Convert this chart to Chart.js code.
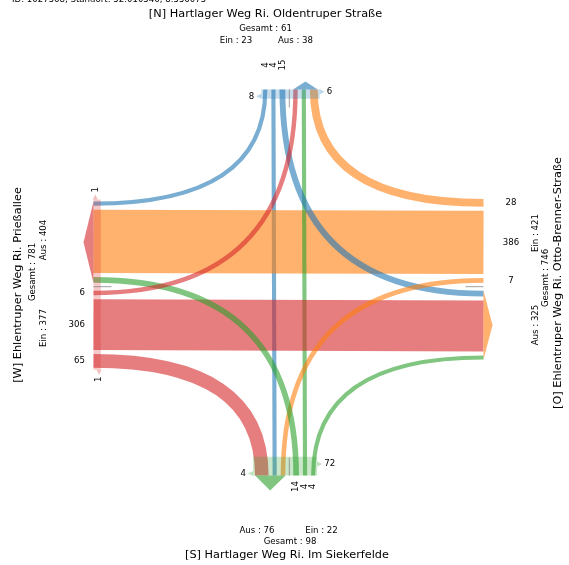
<!DOCTYPE html>
<html>
<head>
<meta charset="utf-8">
<script src="https://cdn.jsdelivr.net/npm/chart.js@4.4.0/dist/chart.umd.min.js"></script>
<style>
    html, body { margin: 0; padding: 0; background: #fff; }
    #wrap { width: 569px; height: 565px; }
</style>
</head>
<body>
<div id="wrap"><canvas id="knotenstrom"></canvas></div>
<script>
// Knotenstrom-Diagramm der Zählstelle Hartlager Weg / Ehlentruper Weg.

// Daten
var armIds = ['N', 'O', 'S', 'W'];
var armTitles = [
    '[N] Hartlager Weg Ri. Oldentruper Straße',
    '[O] Ehlentruper Weg Ri. Otto-Brenner-Straße',
    '[S] Hartlager Weg Ri. Im Siekerfelde',
    '[W] Ehlentruper Weg Ri. Prießallee'
];
var flowFrom = ['N', 'N', 'N', 'O', 'O', 'O', 'S', 'S', 'S', 'W', 'W', 'W'];
var flowTo = ['W', 'S', 'O', 'N', 'W', 'S', 'W', 'N', 'O', 'N', 'O', 'S'];
var flowValues = [4, 4, 15, 28, 386, 7, 14, 4, 4, 6, 306, 65];
var crossInner = [8, 0, 72, 1];
var crossOuter = [6, 0, 4, 1];
var headerText = 'ID: 1027568, Standort: 52.010546, 8.556075';

// Layout
var armColors = ['31,119,180', '255,127,14', '44,160,44', '214,39,40'];
var armDir = [[0, 1], [1, 0], [0, -1], [-1, 0]];
var armReach = [197.2, 194.2, 188.8, 195.8];
var arrowLen = [8, 9, 15, 10];
var laneGap = 4;
var labelOut = [24.5, 27.5, 11, 8.5];
var labelAlign = ['center', 'center', 'center', 'right'];
var labelRot = [-90, 0, -90, 0];
var textRot = [0, -90, 0, -90];
// Textpositionen je Arm: Titel, Gesamt, Ein, Aus
var textPos = [
    [[-23.8, 272.2], [-23.8, 257.7], [-53.3, 245.7], [6.2, 245.7]],
    [[268.7, 3.7], [256.7, 8.7], [246.7, 53.7], [246.7, -38.3]],
    [[-2.3, -268.3], [0.7, -255.3], [32.2, -244.3], [-32.3, -244.3]],
    [[-271.3, 1.7], [-256.3, 14.7], [-245.3, -41.3], [-245.3, 46.7]]
];

function laneWidth(v) {
    return 3.5 + 0.155 * v;
}

function turnRank(fromI, toI) {
    var d = (toI - fromI + 4) % 4;
    return d === 1 ? 0 : (d === 2 ? 1 : 2);
}

// Punkt am Arm a: Abstand r vom Zentrum, Versatz s quer zum Arm
function armPoint(a, r, s) {
    var d = armDir[a];
    return [d[0] * r - d[1] * s, d[1] * r + d[0] * s];
}

// Fahrstreifen aufbauen
var lanes = flowValues.map(function (v, k) {
    return {
        from: armIds.indexOf(flowFrom[k]),
        to: armIds.indexOf(flowTo[k]),
        value: v,
        width: laneWidth(v)
    };
});
var einEdge = [0, 0, 0, 0];
var ausEdge = [0, 0, 0, 0];
var einSum = [0, 0, 0, 0];
var ausSum = [0, 0, 0, 0];

armIds.forEach(function (id, a) {
    var byTurn = function (p, q) {
        return turnRank(p.from, p.to) - turnRank(q.from, q.to);
    };
    var off = laneGap;
    lanes.filter(function (l) { return l.from === a; }).sort(byTurn).forEach(function (l) {
        l.startOff = off + l.width / 2;
        off += l.width + laneGap;
        einSum[a] += l.value;
    });
    einEdge[a] = off - laneGap;

    off = laneGap;
    lanes.filter(function (l) { return l.to === a; }).sort(byTurn).forEach(function (l) {
        l.endOff = -(off + l.width / 2);
        off += l.width + laneGap;
        ausSum[a] += l.value;
    });
    ausEdge[a] = off - laneGap;
});

var knotenPlugin = {
    id: 'knoten',
    afterDatasetsDraw: function (chart) {
        var ctx = chart.ctx;
        var xs = chart.scales.x;
        var ys = chart.scales.y;

        function px(p) {
            return [xs.getPixelForValue(p[0]), ys.getPixelForValue(p[1])];
        }
        function len(v) {
            return Math.abs(xs.getPixelForValue(v) - xs.getPixelForValue(0));
        }
        function polygon(points, fill) {
            ctx.beginPath();
            points.forEach(function (p, i) {
                var q = px(p);
                if (i === 0) ctx.moveTo(q[0], q[1]); else ctx.lineTo(q[0], q[1]);
            });
            ctx.closePath();
            ctx.fillStyle = fill;
            ctx.fill();
        }
        function drawText(text, p, size, rot, align) {
            var q = px(p);
            ctx.save();
            ctx.translate(q[0], q[1]);
            ctx.rotate(rot * Math.PI / 180);
            ctx.font = size + 'px "DejaVu Sans"';
            ctx.fillStyle = '#000';
            ctx.textAlign = align || 'center';
            ctx.textBaseline = 'middle';
            ctx.fillText(text, 0, 0);
            ctx.restore();
        }

        // Ströme: erst Geradeaus, dann Abbieger
        var ordered = lanes.filter(function (l) { return turnRank(l.from, l.to) === 1; })
            .concat(lanes.filter(function (l) { return turnRank(l.from, l.to) !== 1; }));
        ctx.save();
        ctx.lineCap = 'butt';
        ordered.forEach(function (l) {
            var p0d = armPoint(l.from, armReach[l.from], l.startOff);
            var p2d = armPoint(l.to, armReach[l.to], l.endOff);
            var p0 = px(p0d);
            var p2 = px(p2d);
            ctx.beginPath();
            ctx.moveTo(p0[0], p0[1]);
            if (turnRank(l.from, l.to) === 1) {
                ctx.lineTo(p2[0], p2[1]);
            } else {
                var corner = armDir[l.from][0] === 0 ? [p0d[0], p2d[1]] : [p2d[0], p0d[1]];
                var c = px(corner);
                ctx.quadraticCurveTo(c[0], c[1], p2[0], p2[1]);
            }
            ctx.lineWidth = len(l.width);
            ctx.strokeStyle = 'rgba(' + armColors[l.from] + ',0.6)';
            ctx.stroke();
        });
        ctx.restore();

        armIds.forEach(function (id, a) {
            var R = armReach[a];
            var col = armColors[a];
            var sIn = einEdge[a] + 2;
            var sOut = -(ausEdge[a] + 2);

            // Querungen (innen / außen)
            var bands = [
                { value: crossOuter[a], r0: R, s: sOut, sign: -1 },
                { value: crossInner[a], r0: R - (crossOuter[a] ? laneWidth(crossOuter[a]) : 0), s: sIn, sign: 1 }
            ];
            bands.forEach(function (b) {
                if (!b.value) return;
                var r1 = b.r0 - laneWidth(b.value);
                polygon([armPoint(a, b.r0, sOut), armPoint(a, b.r0, sIn),
                    armPoint(a, r1, sIn), armPoint(a, r1, sOut)], 'rgba(' + col + ',0.25)');
                var rc = (b.r0 + r1) / 2;
                polygon([armPoint(a, rc + 2.5, b.s), armPoint(a, rc - 2.5, b.s),
                    armPoint(a, rc, b.s + b.sign * 5)], 'rgba(' + col + ',0.3)');
                var rot = armDir[a][0] === 0 ? 0 : -90;
                ctx.font = '8.6px "DejaVu Sans"';
                var tw = ctx.measureText(String(b.value)).width;
                var half = xs.getValueForPixel(xs.getPixelForValue(0) + tw / 2) - xs.getValueForPixel(xs.getPixelForValue(0));
                drawText(String(b.value), armPoint(a, rc, b.s + b.sign * (7 + half)), 8.6, rot);
            });

            // Richtungspfeil für ausfahrende Ströme
            if (ausEdge[a] > 0) {
                polygon([armPoint(a, R, -laneGap + 0.3), armPoint(a, R, -ausEdge[a]),
                    armPoint(a, R + arrowLen[a], -(laneGap + ausEdge[a]) / 2)], 'rgba(' + col + ',0.6)');
            }

            // Wendelinie
            var u0 = px(armPoint(a, R, 0));
            var u1 = px(armPoint(a, R - 18, 0));
            ctx.beginPath();
            ctx.moveTo(u0[0], u0[1]);
            ctx.lineTo(u1[0], u1[1]);
            ctx.lineWidth = 1;
            ctx.strokeStyle = 'rgba(120,120,120,0.7)';
            ctx.stroke();

            // Werte der einfahrenden Ströme
            lanes.forEach(function (l) {
                if (l.from !== a) return;
                drawText(String(l.value), armPoint(a, R + labelOut[a], l.startOff), 8.6, labelRot[a], labelAlign[a]);
            });

            // Beschriftung des Arms
            var tp = textPos[a];
            drawText(armTitles[a], tp[0], 11.3, textRot[a]);
            drawText('Gesamt : ' + (einSum[a] + ausSum[a]), tp[1], 8.6, textRot[a]);
            drawText('Ein : ' + einSum[a], tp[2], 8.6, textRot[a]);
            drawText('Aus : ' + ausSum[a], tp[3], 8.6, textRot[a]);
        });

        drawText(headerText, [-277.3, 287.4], 8.6, 0, 'left');
    }
};

var chart = new Chart(document.getElementById('knotenstrom').getContext('2d'), {
    type: 'scatter',
    data: {
        datasets: [{ data: [] }]
    },
    options: {
        responsive: true,
        maintainAspectRatio: false,
        animation: false,
        layout: { padding: 0 },
        plugins: {
            legend: { display: false },
            tooltip: { enabled: false }
        },
        scales: {
            x: { type: 'linear', display: false, min: -289.3, max: 279.7 },
            y: { type: 'linear', display: false, min: -278.3, max: 286.7 }
        }
    },
    plugins: [knotenPlugin]
});
</script>
</body>
</html>
